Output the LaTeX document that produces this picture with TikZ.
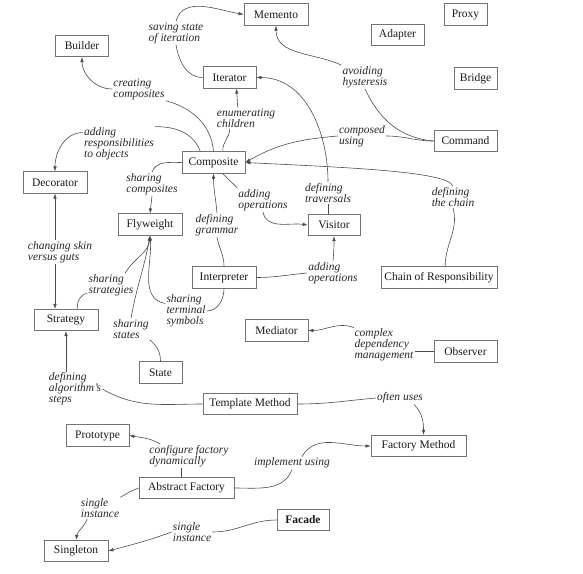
\documentclass[tikz,border=0pt]{standalone}
\usepackage{fontspec}
\setmainfont{Liberation Serif}
\usetikzlibrary{arrows.meta,calc}

\begin{document}
\begin{tikzpicture}[x=1pt,y=1pt,
  >={Latex[length=5pt,width=3.6pt]},
  box/.style={draw=black!55, line width=0.7pt, minimum height=21.5pt, inner sep=0pt, text=black!90, font=\fontsize{11.5}{12}\selectfont},
  rel/.style={align=left, inner sep=1pt, text=black!85, font=\fontsize{11.5}{11}\selectfont\itshape},
  link/.style={draw=black!70, line width=0.6pt}]
\useasboundingbox (0,0) rectangle (583,-573);

\node[box, minimum width=64pt] (memento) at (276,-14.5) {Memento};
\node[box, minimum width=53pt] (builder) at (82,-46) {Builder};
\node[box, minimum width=53pt] (iterator) at (229.5,-77.5) {Iterator};
\node[box, minimum width=63pt] (composite) at (213.5,-162.5) {Composite};
\node[box, minimum width=64pt] (decorator) at (55,-182.5) {Decorator};
\node[box, minimum width=43pt] (proxy) at (465.5,-14.5) {Proxy};
\node[box, minimum width=53pt] (adapter) at (397.5,-35) {Adapter};
\node[box, minimum width=43pt] (bridge) at (475.5,-78.5) {Bridge};
\node[box, minimum width=63pt] (command) at (465.5,-141) {Command};
\node[box, minimum width=64pt] (flyweight) at (150,-224.5) {Flyweight};
\node[box, minimum width=52pt] (visitor) at (334,-225) {Visitor};
\node[box, minimum width=64pt] (interpreter) at (224,-277.5) {Interpreter};
\node[box, minimum width=116pt] (chain) at (439,-277.5) {Chain of Responsibility};
\node[box, minimum width=64pt] (strategy) at (66,-320) {Strategy};
\node[box, minimum width=63pt] (mediator) at (276.5,-330.5) {Mediator};
\node[box, minimum width=63pt] (observer) at (465.5,-351.5) {Observer};
\node[box, minimum width=43pt] (state) at (160.5,-372.5) {State};
\node[box, minimum width=94pt] (template) at (250,-404) {Template Method};
\node[box, minimum width=63pt] (prototype) at (97.5,-435.5) {Prototype};
\node[box, minimum width=95pt] (factory) at (418.5,-446) {Factory Method};
\node[box, minimum width=95pt] (abstract) at (186.5,-488) {Abstract Factory};
\node[box, minimum width=52pt] (facade) at (303,-520) {\bfseries Facade};
\node[box, minimum width=64pt] (singleton) at (76,-551) {Singleton};

\node[rel] (l-saving) at (176,-33) {saving state\\of iteration};
\node[rel] (l-creating) at (139,-89) {creating\\composites};
\node[rel] (l-enum) at (246,-118) {enumerating\\children};
\node[rel] (l-adding) at (119,-144) {adding\\responsibilities\\to objects};
\node[rel] (l-hyst) at (365,-77) {avoiding\\hysteresis};
\node[rel] (l-composed) at (362,-136) {composed\\using};
\node[rel] (l-chain) at (453,-197) {defining\\the chain};
\node[rel] (l-trav) at (328,-193) {defining\\traversals};
\node[rel] (l-addop) at (263,-200) {adding\\operations};
\node[rel] (l-addop2) at (333,-273) {adding\\operations};
\node[rel] (l-grammar) at (217,-225) {defining\\grammar};
\node[rel] (l-sharecomp) at (152,-184) {sharing\\composites};
\node[rel] (l-terminal) at (186,-311) {sharing\\terminal\\symbols};
\node[rel] (l-strat) at (111,-285) {sharing\\strategies};
\node[rel] (l-states) at (131,-329) {sharing\\states};
\node[rel] (l-skin) at (60,-252) {changing skin\\versus guts};
\node[rel] (l-steps) at (75,-389) {defining\\algorithm's\\steps};
\node[rel] (l-often) at (400,-398) {often uses};
\node[rel] (l-complex) at (384,-345) {complex\\dependency\\management};
\node[rel] (l-config) at (189,-456) {configure factory\\dynamically};
\node[rel] (l-impl) at (292,-463) {implement using};
\node[rel] (l-single) at (100,-508) {single\\instance};
\node[rel] (l-single2) at (192,-532) {single\\instance};

\draw[link] (iterator.west) to[out=180,in=-80] (l-saving.south);
\draw[link,->] (l-saving.north) to[out=75,in=170] (memento.west);
\draw[link,->] (l-creating.west) to[out=180,in=-90] (builder.south);
\draw[link] (composite.north) to[out=95,in=-15] (l-creating.south east);
\draw[link] (composite.50) to[out=95,in=-90] ($(l-enum.south west)+(14,0)$);
\draw[link,->] ($(l-enum.north west)+(22,0)$) -- ($(iterator.south)+(7,0)$);
\draw[link] (composite.140) to[out=110,in=0] (l-adding.north east);
\draw[link,->] ($(l-adding.north west)+(0,-6)$) to[out=180,in=90] (decorator.north);
\draw[link,->] (l-hyst.north west) to[out=155,in=-90] (memento.south);
\draw[link] (l-hyst.south) to[out=-65,in=175] (command.west);
\draw[link] (command.west) to[out=180,in=0] (l-composed.east);
\draw[link,->] (l-composed.west) to[out=185,in=30] (composite.east);
\draw[link] (chain.61) to[out=90,in=-75] (l-chain.south);
\draw[link,->] (l-chain.north) .. controls +(-5,15) and +(100,-5) .. (composite.east);
\draw[link] (l-trav.south) -- (l-trav.south |- visitor.north);
\draw[link,->] (l-trav.north) to[out=90,in=0] (iterator.east);
\draw[link] (composite.-50) to[out=-50,in=130] (l-addop.north west);
\draw[link,->] (l-addop.south) to[out=-80,in=172] (visitor.west);
\draw[link] (interpreter.east) to[out=0,in=185] (l-addop2.west);
\draw[link,->] (l-addop2.north) to[out=85,in=-90] (visitor.south);
\draw[link] (interpreter.north) to[out=90,in=-80] (l-grammar.south);
\draw[link,->] (l-grammar.north) to[out=95,in=-90] (composite.south);
\draw[link] (composite.west) to[out=180,in=70] (l-sharecomp.north);
\draw[link,->] (l-sharecomp.south) -- (flyweight.north);
\draw[link] (interpreter.south) to[out=-90,in=0] (l-terminal.east);
\draw[link,->] (l-terminal.160) to[out=170,in=-85] (flyweight.south);
\draw[link] (strategy.45) to[out=90,in=180] (l-strat.200);
\draw[link,->] (l-strat.40) to[out=60,in=-95] (flyweight.south);
\draw[link] (state.north) to[out=90,in=-40] (l-states.south east);
\draw[link,->] (l-states.north) to[out=80,in=-100] (flyweight.south);
\draw[link,->] (l-skin.north -| decorator.south) -- (decorator.south);
\draw[link,->] (l-skin.south -| decorator.south) -- (decorator.south |- strategy.north);
\draw[link] (template.west) to[out=180,in=-30] (l-steps.east);
\draw[link,->] (l-steps.north -| strategy.south) -- (strategy.south);
\draw[link] (template.east) to[out=0,in=185] (l-often.west);
\draw[link,->] ($(l-often.south)+(14,0)$) to[out=-45,in=90] ($(factory.north)+(5,0)$);
\draw[link] (observer.west) -- (l-complex.east |- observer.west);
\draw[link,->] (l-complex.150) to[out=160,in=0] (mediator.east);
\draw[link] (abstract.114) -- (abstract.114 |- l-config.south);
\draw[link,->] ($(l-config.north west)+(12,0)$) to[out=150,in=-10] (prototype.east);
\draw[link] (abstract.east) to[out=0,in=-110] (l-impl.south);
\draw[link,->] ($(l-impl.north)+(10,0)$) to[out=60,in=180] (factory.west);
\draw[link] (abstract.west) to[out=200,in=30] (l-single.north east);
\draw[link,->] (l-single.-140) to[out=-110,in=80] (singleton.north);
\draw[link] (facade.west) to[out=180,in=0] (l-single2.east);
\draw[link,->] (l-single2.west) to[out=200,in=15] (singleton.east);

\end{tikzpicture}
\end{document}
